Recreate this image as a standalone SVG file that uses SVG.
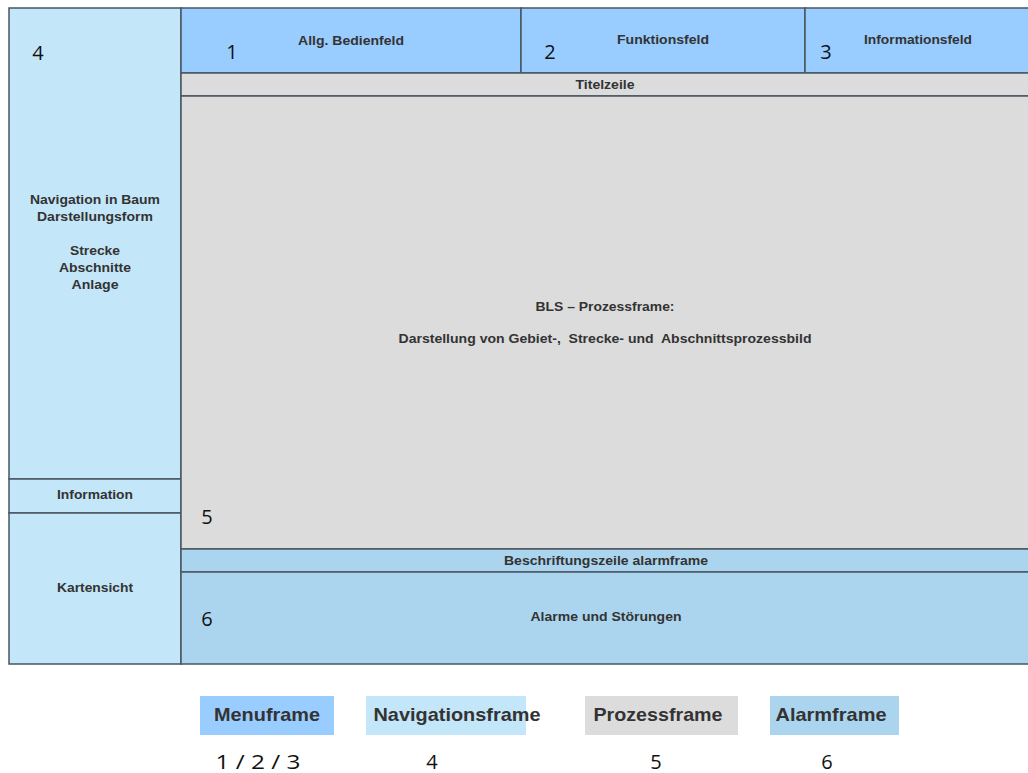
<svg xmlns="http://www.w3.org/2000/svg" width="1028" height="773" viewBox="0 0 1028 773">
  <style>
    .frame { stroke: #4a5560; stroke-width: 1.5; }
    .menu { fill: #99CCFF; }
    .nav { fill: #C3E6F8; }
    .proc { fill: #DCDCDC; }
    .alarm { fill: #ABD5EE; }
    .lbl { font-family: "Liberation Sans", Arial, sans-serif; font-size: 12px; font-weight: bold; fill: #333; text-anchor: middle; }
    .num { font-family: "Open Sans", "Liberation Sans", sans-serif; font-size: 20px; fill: #111; text-anchor: middle; }
    .leg { font-family: "Liberation Sans", Arial, sans-serif; font-size: 19px; font-weight: bold; fill: #333; text-anchor: middle; }
  </style>
  <rect width="1028" height="773" fill="#ffffff"/>

  <!-- Navigationsframe (left column) -->
  <g id="nav-tree">
    <rect class="nav frame" x="9" y="8" width="172" height="471"/>
    <text class="num" x="38" y="60">4</text>
    <text class="lbl" x="95" y="204" textLength="130" lengthAdjust="spacingAndGlyphs">Navigation in Baum</text>
    <text class="lbl" x="95" y="221" textLength="116" lengthAdjust="spacingAndGlyphs">Darstellungsform</text>
    <text class="lbl" x="95" y="255" textLength="50" lengthAdjust="spacingAndGlyphs">Strecke</text>
    <text class="lbl" x="95" y="272" textLength="72" lengthAdjust="spacingAndGlyphs">Abschnitte</text>
    <text class="lbl" x="95" y="289" textLength="47" lengthAdjust="spacingAndGlyphs">Anlage</text>
  </g>
  <g id="nav-info">
    <rect class="nav frame" x="9" y="479" width="172" height="34"/>
    <text class="lbl" x="95" y="499" textLength="76" lengthAdjust="spacingAndGlyphs">Information</text>
  </g>
  <g id="nav-map">
    <rect class="nav frame" x="9" y="513" width="172" height="151"/>
    <text class="lbl" x="95" y="592" textLength="76" lengthAdjust="spacingAndGlyphs">Kartensicht</text>
  </g>

  <!-- Menuframe (top row) -->
  <g id="menu-1">
    <rect class="menu frame" x="181" y="8" width="340" height="65"/>
    <text class="num" x="232" y="59">1</text>
    <text class="lbl" x="351" y="45" textLength="106" lengthAdjust="spacingAndGlyphs">Allg. Bedienfeld</text>
  </g>
  <g id="menu-2">
    <rect class="menu frame" x="521" y="8" width="284" height="65"/>
    <text class="num" x="550" y="59">2</text>
    <text class="lbl" x="663" y="44" textLength="92" lengthAdjust="spacingAndGlyphs">Funktionsfeld</text>
  </g>
  <g id="menu-3">
    <rect class="menu frame" x="805" y="8" width="230" height="65"/>
    <text class="num" x="826" y="59">3</text>
    <text class="lbl" x="918" y="44" textLength="108" lengthAdjust="spacingAndGlyphs">Informationsfeld</text>
  </g>

  <!-- Prozessframe -->
  <g id="title-bar">
    <rect class="proc frame" x="181" y="73" width="854" height="23"/>
    <text class="lbl" x="605" y="89" textLength="59" lengthAdjust="spacingAndGlyphs">Titelzeile</text>
  </g>
  <g id="process">
    <rect class="proc frame" x="181" y="96" width="854" height="453"/>
    <text class="lbl" x="605" y="311" textLength="139" lengthAdjust="spacingAndGlyphs">BLS – Prozessframe:</text>
    <text class="lbl" x="605" y="343" textLength="413" lengthAdjust="spacingAndGlyphs" xml:space="preserve">Darstellung von Gebiet-,  Strecke- und  Abschnittsprozessbild</text>
    <text class="num" x="207" y="524">5</text>
  </g>

  <!-- Alarmframe -->
  <g id="alarm-bar">
    <rect class="alarm frame" x="181" y="549" width="854" height="23"/>
    <text class="lbl" x="606" y="565" textLength="204" lengthAdjust="spacingAndGlyphs">Beschriftungszeile alarmframe</text>
  </g>
  <g id="alarm">
    <rect class="alarm frame" x="181" y="572" width="854" height="92"/>
    <text class="lbl" x="606" y="621" textLength="151" lengthAdjust="spacingAndGlyphs">Alarme und Störungen</text>
    <text class="num" x="207" y="626">6</text>
  </g>

  <!-- Legend -->
  <g id="legend-menu">
    <rect class="menu" x="200" y="696" width="134" height="39"/>
    <text class="leg" x="267" y="721" textLength="106" lengthAdjust="spacingAndGlyphs">Menuframe</text>
    <text class="num" x="258" y="769" textLength="85" lengthAdjust="spacingAndGlyphs">1 / 2 / 3</text>
  </g>
  <g id="legend-nav">
    <rect class="nav" x="366" y="696" width="160" height="39"/>
    <text class="leg" x="457" y="721" textLength="167" lengthAdjust="spacingAndGlyphs">Navigationsframe</text>
    <text class="num" x="432" y="769">4</text>
  </g>
  <g id="legend-proc">
    <rect class="proc" x="585" y="696" width="153" height="39"/>
    <text class="leg" x="658" y="721" textLength="129" lengthAdjust="spacingAndGlyphs">Prozessframe</text>
    <text class="num" x="656" y="769">5</text>
  </g>
  <g id="legend-alarm">
    <rect class="alarm" x="770" y="696" width="129" height="39"/>
    <text class="leg" x="831" y="721" textLength="111" lengthAdjust="spacingAndGlyphs">Alarmframe</text>
    <text class="num" x="827" y="769">6</text>
  </g>

  <g id="connectors"/>
</svg>
